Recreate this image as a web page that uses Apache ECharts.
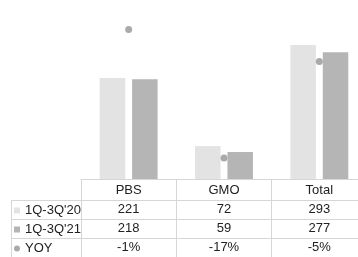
<!DOCTYPE html>
<html>
<head>
    <meta charset="UTF-8">
    <title>PBS / GMO</title>
    <script src="https://cdn.jsdelivr.net/npm/echarts@6/dist/echarts.min.js"></script>
    <style>
        html, body { margin: 0; padding: 0; background: #fff; overflow: hidden; }
        #chart { width: 358px; height: 257px; }
    </style>
</head>
<body>
    <div id="chart"></div>
    <script>
        var categories = ['PBS', 'GMO', 'Total'];
        var sales20 = [221, 72, 293];
        var sales21 = [218, 59, 277];
        var yoy = [-1, -17, -5];
        var rowNames = ["1Q-3Q'20", "1Q-3Q'21", 'YOY'];

        var lineColor = '#d6d6d6';
        var font = { fontFamily: 'Liberation Sans', fontSize: 13, color: '#222' };

        // one extra x axis per table row, its line is the row border
        function rowAxis(offset, values, suffix) {
            return {
                type: 'category',
                data: categories,
                position: 'bottom',
                offset: offset,
                axisLine: { show: true, onZero: false, lineStyle: { color: lineColor, width: 1 } },
                axisTick: { show: false },
                axisLabel: Object.assign({
                    margin: 3,
                    formatter: function (v, i) { return values[i] + (suffix || ''); }
                }, font)
            };
        }

        var chart = echarts.init(document.getElementById('chart'), null, { renderer: 'canvas' });

        chart.setOption({
            animation: false,
            backgroundColor: '#fff',
            grid: { left: 81, top: 19, width: 286, height: 160, outerBoundsMode: 'none', containLabel: false },
            legend: {
                orient: 'vertical',
                left: 14,
                top: 203,
                padding: 0,
                itemWidth: 6,
                itemHeight: 6,
                itemGap: 4,
                textStyle: Object.assign({ lineHeight: 15 }, font),
                data: [
                    { name: rowNames[0], icon: 'rect' },
                    { name: rowNames[1], icon: 'rect' },
                    { name: rowNames[2], icon: 'circle' }
                ]
            },
            xAxis: [
                {
                    type: 'category',
                    data: categories,
                    position: 'bottom',
                    axisLine: { show: true, onZero: false, lineStyle: { color: lineColor, width: 1 } },
                    axisTick: { show: true, length: 80, lineStyle: { color: lineColor } },
                    axisLabel: Object.assign({ margin: 5 }, font)
                },
                rowAxis(21, sales20),
                rowAxis(40, sales21),
                rowAxis(59, yoy, '%')
            ],
            yAxis: [
                { type: 'value', min: 0, max: 350, show: false },
                { type: 'value', min: -19.6, max: 0.3, show: false }
            ],
            graphic: [
                { type: 'line', shape: { x1: 11, y1: 200.5, x2: 81, y2: 200.5 }, style: { stroke: lineColor } },
                { type: 'line', shape: { x1: 11, y1: 219.5, x2: 81, y2: 219.5 }, style: { stroke: lineColor } },
                { type: 'line', shape: { x1: 11, y1: 238.5, x2: 81, y2: 238.5 }, style: { stroke: lineColor } },
                { type: 'line', shape: { x1: 11.5, y1: 200, x2: 11.5, y2: 257 }, style: { stroke: lineColor } }
            ],
            series: [
                {
                    name: rowNames[0],
                    type: 'bar',
                    data: sales20,
                    barWidth: 25.5,
                    barGap: '27%',
                    itemStyle: { color: '#e3e3e3' }
                },
                {
                    name: rowNames[1],
                    type: 'bar',
                    data: sales21,
                    barWidth: 25.5,
                    itemStyle: { color: '#b5b5b5' }
                },
                {
                    name: rowNames[2],
                    type: 'scatter',
                    yAxisIndex: 1,
                    data: yoy,
                    symbolSize: 7,
                    itemStyle: { color: '#aaaaaa', opacity: 1 }
                }
            ]
        });
    </script>
</body>
</html>
